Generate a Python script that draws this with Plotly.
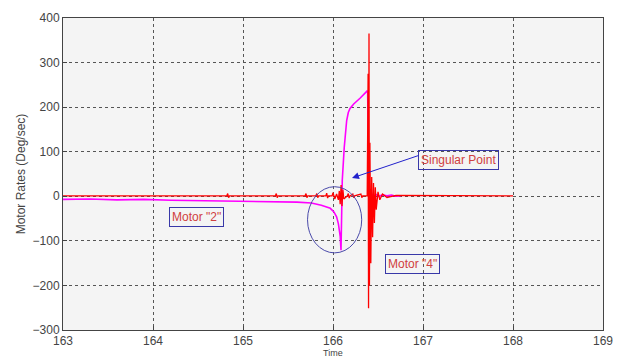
import plotly.graph_objects as go

# Motor "2" (magenta)
t_m2 = [163.0, 163.3, 163.6, 163.9, 164.2, 164.5, 164.8, 165.1, 165.4, 165.6,
        165.76, 165.87, 165.97, 166.01, 166.04, 166.06, 166.08, 166.089, 166.103,
        166.125, 166.152, 166.17, 166.189, 166.23, 166.30, 166.34, 166.378, 166.385,
        166.40, 166.43, 166.45, 166.48, 166.51, 166.55, 166.6, 166.65, 166.7, 166.75]
v_m2 = [-7, -6, -8, -7, -9, -10, -10, -11, -12, -13,
        -15, -20, -27, -35, -46, -62, -90, -121, 36,
        110, 170, 188, 197, 207, 220, 228, 236, 234,
        2, 6, -2, 4, 0, 3, 1, 3, 0, 1]

# Motor "4" (red)
t_m4 = [163.0, 164.82, 164.83, 164.84, 164.85, 165.36, 165.37, 165.38, 165.39,
        165.69, 165.70, 165.71, 165.72, 165.81, 165.82, 165.83, 165.84,
        165.92, 165.93, 165.94, 165.95, 165.99, 166.0, 166.02, 166.04, 166.06,
        166.07, 166.08, 166.09, 166.10, 166.11, 166.12, 166.16, 166.17, 166.18,
        166.19, 166.22, 166.23, 166.24, 166.31, 166.32, 166.33, 166.38, 166.39,
        166.395, 166.40, 166.405, 166.41, 166.42, 166.43, 166.44, 166.45, 166.46,
        166.47, 166.48, 166.50, 166.52, 166.55, 166.60, 166.70, 168.0]
v_m4 = [1, 1, 6, -3, 1, 1, 6, -3, 1,
        1, 6, -3, 1, 1, 6, -3, 1,
        1, 7, -4, 1, 1, 8, -6, 5, -8,
        12, -18, 25, -22, 15, -6, 1, 6, -4,
        1, 5, -3, 1, 5, -3, 1, 1, 275,
        -251, 365, -200, 120, -150, 43, -92, 30, -60,
        20, -30, 10, -8, 5, -3, 2, 1]

x_ticks = [163, 164, 165, 166, 167, 168, 169]
y_ticks = [-300, -200, -100, 0, 100, 200, 300, 400]

fig = go.Figure()
fig.add_trace(go.Scatter(x=t_m2, y=v_m2, mode="lines",
                         line=dict(color="#ff00ff", width=1.6), name='Motor "2"'))
fig.add_trace(go.Scatter(x=t_m4, y=v_m4, mode="lines",
                         line=dict(color="#ff0000", width=1.3), name='Motor "4"'))

font = dict(family="Liberation Sans, Arial, sans-serif", size=12, color="#444444")
axis_common = dict(showline=True, linecolor="#444444", linewidth=1, mirror=True,
                   showgrid=True, gridcolor="#555555", griddash="dot", gridwidth=1,
                   ticks="inside", ticklen=4, tickcolor="#444444", zeroline=False,
                   tickfont=font, automargin=False)

fig.update_layout(
    width=618, height=358,
    margin=dict(l=63, r=15, t=18, b=28),
    paper_bgcolor="white", plot_bgcolor="#f4f4f4",
    showlegend=False, font=font,
)
fig.update_xaxes(range=[163, 169], tickvals=x_ticks, ticklabelstandoff=0,
                 **axis_common)
fig.update_yaxes(range=[-300, 400], tickvals=y_ticks,
                 title=dict(text="Motor Rates (Deg/sec)", font=dict(size=12, color="#444444"), standoff=4),
                 **axis_common)

# x-axis title placed just under the tick labels
fig.add_annotation(x=0.5, y=0, xref="paper", yref="paper", yshift=-16, yanchor="top",
                   text="Time", showarrow=False,
                   font=dict(family="Liberation Sans, Arial, sans-serif", size=9, color="#444444"))

# ellipse around the singular point
fig.add_shape(type="circle", xref="x", yref="y", x0=165.717, x1=166.319, y0=-127, y1=21.5,
              line=dict(color="#4a4aaa", width=1))

box = dict(showarrow=False, font=dict(family="Liberation Sans, Arial, sans-serif", size=12, color="#d04040"),
           bordercolor="#3838a8", borderwidth=1, borderpad=2, bgcolor="rgba(0,0,0,0)",
           xref="x", yref="y")
fig.add_annotation(x=164.478, y=-46.5, text='Motor "2"', **box)
fig.add_annotation(x=166.878, y=-152, text='Motor "4"', **box)
fig.add_annotation(x=167.389, y=80.3, text="Singular Point", **box)

# arrow
fig.add_annotation(x=166.211, y=41, ax=166.967, ay=92.6, xref="x", yref="y",
                   axref="x", ayref="y", text="", showarrow=True,
                   arrowhead=2, arrowsize=1.4, arrowwidth=1, arrowcolor="#2222cc", standoff=0)

fig.write_html("out.html", config={"displayModeBar": False},
               post_script="document.body.style.margin='0';")
